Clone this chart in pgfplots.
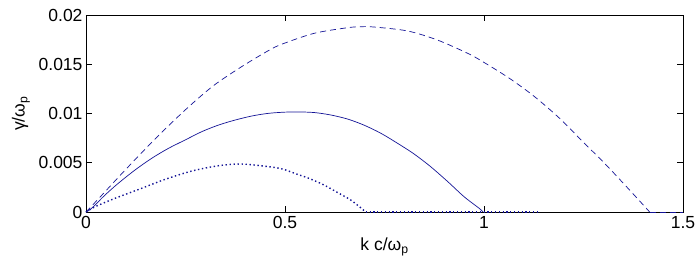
\documentclass[border=0pt]{standalone}
\usepackage{fontspec}
\setmainfont{Liberation Sans}
\usepackage{pgfplots}
\pgfplotsset{compat=1.18}
\definecolor{mblue}{RGB}{20,20,150}
\begin{document}
\begin{tikzpicture}
\useasboundingbox (-86pt,-57pt) rectangle (614pt,212pt);
\begin{axis}[
  scale only axis, width=597pt, height=197pt,
  at={(0pt,0pt)}, anchor=south west,
  xmin=0, xmax=1.5, ymin=0, ymax=0.02,
  scaled y ticks=false, scaled x ticks=false,
  xtick={0,0.5,1,1.5}, xticklabels={0,0.5,1,1.5},
  ytick={0,0.005,0.01,0.015,0.02}, yticklabels={0,0.005,0.01,0.015,0.02},
  tick align=inside, major tick length=6pt,
  axis line style={line width=0.8pt},
  every tick/.style={black, line width=0.8pt},
  tick label style={font=\fontsize{17.5}{20}\selectfont},
  label style={font=\fontsize{17.5}{20}\selectfont},
  xlabel={k c/ω\textsubscript{p}},
  ylabel={γ/ω\textsubscript{p}},
  xlabel style={yshift=-2pt},
  ylabel style={yshift=2pt},
  xticklabel style={yshift=-1pt},
  clip=false,
]
\addplot[mblue, line width=0.7pt, dash pattern=on 6pt off 4pt, smooth, tension=0.5] coordinates {
(0,0) (0.035,0.00150) (0.090,0.00390) (0.149,0.00640) (0.199,0.00843) (0.258,0.01068)
(0.321,0.01285) (0.392,0.01478) (0.459,0.01640) (0.493,0.01705) (0.573,0.01814)
(0.657,0.01871) (0.690,0.01881) (0.724,0.01878) (0.808,0.01838) (0.883,0.01746)
(0.959,0.01611) (0.997,0.01526) (1.064,0.01357) (1.127,0.01171) (1.190,0.00951)
(1.244,0.00731) (1.303,0.00494) (1.358,0.00257) (1.408,0.00037) (1.416,0)
};
\addplot[mblue, line width=0.7pt, dash pattern=on 6pt off 4pt] coordinates {(1.416,0) (1.5,0)};
\addplot[mblue, line width=0.7pt, smooth, tension=0.5] coordinates {
(0,0) (0.014,0.00037) (0.048,0.00173) (0.081,0.00291) (0.123,0.00426) (0.165,0.00545)
(0.207,0.00646) (0.249,0.00731) (0.291,0.00816) (0.333,0.00883) (0.375,0.00934)
(0.417,0.00975) (0.459,0.01002) (0.501,0.01014) (0.531,0.01016) (0.573,0.01010)
(0.615,0.00985) (0.657,0.00944) (0.698,0.00883) (0.741,0.00799) (0.783,0.00697)
(0.824,0.00590) (0.866,0.00460) (0.909,0.00308) (0.950,0.00155) (0.988,0.00037) (0.998,0)
};
\addplot[mblue, line width=1.4pt, dash pattern=on 1.4pt off 2.6pt, smooth, tension=0.5] coordinates {
(0,0) (0.023,0.00054) (0.073,0.00139) (0.140,0.00241) (0.199,0.00332) (0.266,0.00416)
(0.333,0.00470) (0.392,0.00487) (0.459,0.00460) (0.493,0.00437) (0.531,0.00383)
(0.560,0.00342) (0.598,0.00274) (0.640,0.00180) (0.665,0.00122) (0.690,0.00044)
(0.703,0)
};
\addplot[mblue, line width=1.1pt, dash pattern=on 1.2pt off 2.6pt] coordinates {(0.703,0) (1.14,0)};
\end{axis}
\end{tikzpicture}
\end{document}
